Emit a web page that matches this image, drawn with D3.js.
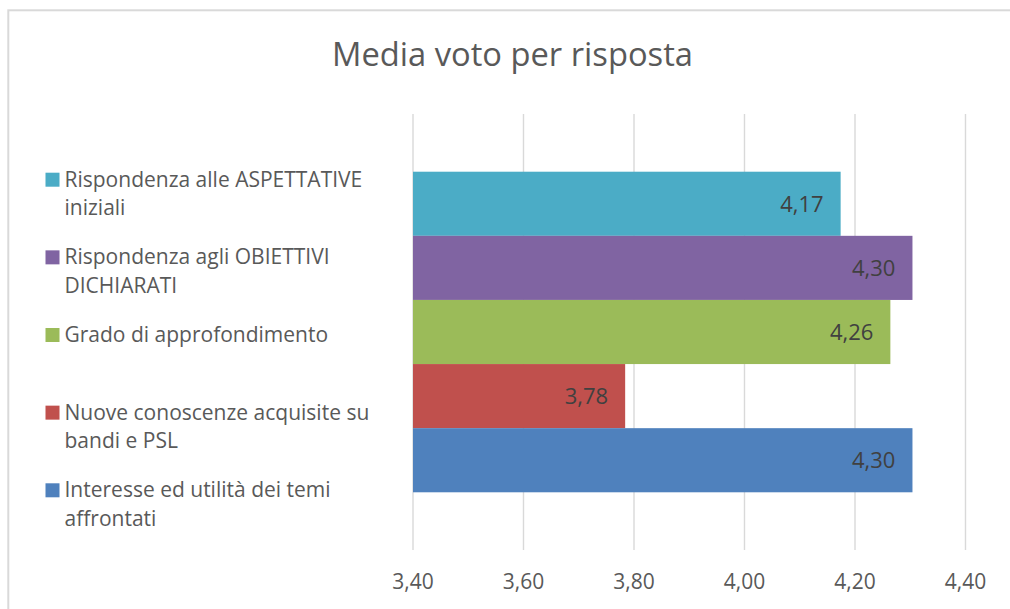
<!DOCTYPE html>
<html>
<head>
<meta charset="utf-8">
<script src="https://cdn.jsdelivr.net/npm/d3@7/dist/d3.min.js"></script>
<style>
  html, body { margin: 0; padding: 0; background: #ffffff; }
  svg { display: block; }
  text { font-family: "Open Sans", "Noto Sans", sans-serif; }
</style>
</head>
<body>
<svg id="chart" width="1010" height="609"></svg>
<script>
// ---- data (Excel series order: first series drawn at the bottom) ----
const title = "Media voto per risposta";
const category = ["Media"];
const seriesNames = [
  "Interesse ed utilità dei temi\naffrontati",
  "Nuove conoscenze acquisite su\nbandi e PSL",
  "Grado di approfondimento",
  "Rispondenza agli OBIETTIVI\nDICHIARATI",
  "Rispondenza alle ASPETTATIVE\niniziali"
];
const seriesValues = [4.304, 3.784, 4.264, 4.304, 4.174];
const seriesColors = ["#4F81BD", "#C0504D", "#9BBB59", "#8064A2", "#4BACC6"];
const tickValues = [3.40, 3.60, 3.80, 4.00, 4.20, 4.40];

// ---- layout ----
const W = 1010, H = 609;
const plot = { left: 413, right: 965.5, top: 114, bottom: 550 };

const svg = d3.select("#chart");
const itFmt = d3.formatLocale({ decimal: ",", thousands: ".", grouping: [3], currency: ["€", ""] }).format(".2f");

// chart border
svg.append("rect")
  .attr("x", 8.3).attr("y", 10.3)
  .attr("width", W + 40).attr("height", H + 40)
  .attr("fill", "#ffffff")
  .attr("stroke", "#d9d9d9").attr("stroke-width", 2);

// title
svg.append("text")
  .attr("x", 512.5).attr("y", 66)
  .attr("text-anchor", "middle")
  .attr("font-size", 32.7)
  .attr("fill", "#595959")
  .text(title);

const series = seriesNames.map((name, i) => ({ name, value: seriesValues[i], color: seriesColors[i], idx: i }));
const display = series.slice().reverse(); // top-to-bottom order

const x = d3.scaleLinear().domain([tickValues[0], tickValues[tickValues.length - 1]]).range([plot.left, plot.right]);
const yCat = d3.scaleBand().domain(category).range([plot.top, plot.bottom]).paddingInner(0).paddingOuter(0.18);
const ySer = d3.scaleBand().domain(display.map(d => d.name)).range([0, yCat.bandwidth()]).padding(0);

// gridlines
svg.append("g").selectAll("line").data(tickValues).join("line")
  .attr("x1", d => x(d)).attr("x2", d => x(d))
  .attr("y1", plot.top).attr("y2", plot.bottom)
  .attr("stroke", "#d9d9d9").attr("stroke-width", 1.4);

// tick labels
svg.append("g").selectAll("text").data(tickValues).join("text")
  .attr("x", d => x(d)).attr("y", plot.bottom + 39)
  .attr("text-anchor", "middle")
  .attr("font-size", 21)
  .attr("fill", "#595959")
  .text(d => itFmt(d));

// bars
const g = svg.append("g").attr("transform", `translate(0,${yCat(category[0])})`);
g.selectAll("rect").data(display).join("rect")
  .attr("x", x(tickValues[0]))
  .attr("y", d => ySer(d.name))
  .attr("width", d => x(d.value) - x(tickValues[0]))
  .attr("height", ySer.bandwidth())
  .attr("fill", d => d.color);

// data labels (inside end)
g.selectAll("text").data(display).join("text")
  .attr("x", d => x(d.value) - 17)
  .attr("y", d => ySer(d.name) + ySer.bandwidth() / 2 + 8)
  .attr("text-anchor", "end")
  .attr("font-size", 22)
  .attr("fill", "#404040")
  .text(d => itFmt(d.value));

// legend (left), top-to-bottom
const legY0 = 186.7, legStep = 77.65, lineH = 28.8;
const leg = svg.append("g");
const items = leg.selectAll("g").data(display).join("g")
  .attr("transform", (d, i) => `translate(0,${legY0 + i * legStep})`);
items.append("rect")
  .attr("x", 45.5).attr("y", -14)
  .attr("width", 14).attr("height", 14)
  .attr("fill", d => d.color);
items.append("text")
  .attr("x", 64.5).attr("y", 0)
  .attr("font-size", 21)
  .attr("fill", "#595959")
  .selectAll("tspan").data(d => d.name.split("\n")).join("tspan")
  .attr("x", 64.5)
  .attr("dy", (d, i) => i === 0 ? 0 : lineH)
  .text(d => d);
</script>
</body>
</html>
